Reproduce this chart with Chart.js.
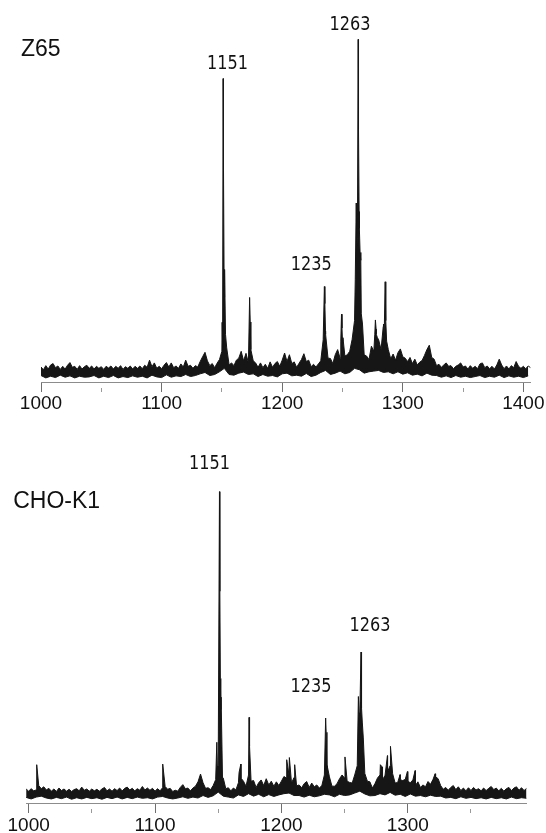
<!DOCTYPE html>
<html>
<head>
<meta charset="utf-8">
<script src="https://cdn.jsdelivr.net/npm/chart.js@4.4.1/dist/chart.umd.min.js"></script>
<style>
  html, body { margin: 0; padding: 0; background: #fff; }
  #wrap { position: relative; width: 546px; height: 833px; overflow: hidden; }
  .panel { position: absolute; left: 0; width: 546px; }
  canvas { display: block; }
</style>
</head>
<body>
<div id="wrap">
  <div class="panel" style="top:0;height:416px"><canvas id="z65" width="546" height="416"></canvas></div>
  <div class="panel" style="top:416px;height:417px"><canvas id="cho" width="546" height="417"></canvas></div>
</div>
<script>
// ---------- Z65 spectrum ----------
// upper edge of the trace, every 2 m/z starting at 1000
const z65Upper = [
  4.4, 3.6, 4.8, 3.8, 5.0, 5.4, 4.2, 4.7, 3.7, 4.6,
  3.8, 4.9, 5.7, 4.3, 4.6, 3.7, 4.8, 3.8, 4.5, 4.9,
  4.0, 4.7, 3.8, 4.6, 4.0, 4.5, 3.7, 4.6, 4.1, 4.7,
  3.8, 4.6, 4.0, 4.8, 3.7, 4.5, 4.0, 4.7, 3.8, 4.6,
  4.0, 4.7, 3.9, 4.9, 4.3, 6.4, 4.5, 5.6, 4.0, 4.6,
  3.9, 4.9, 5.7, 4.4, 5.6, 4.2, 4.7, 4.0, 5.3, 4.4,
  6.4, 4.6, 4.9, 4.0, 4.8, 4.4, 6.0, 7.4, 8.7, 6.2,
  4.8, 5.4, 4.2, 5.5, 6.6, 9.0, 25.0, 10.0, 5.0, 5.6,
  4.8, 6.4, 7.0, 9.0, 6.2, 8.4, 5.6, 9.5, 6.2, 5.6,
  4.3, 5.6, 4.2, 5.2, 4.0, 5.9, 4.3, 5.4, 6.0, 4.6,
  6.4, 8.5, 6.0, 8.0, 5.4, 5.9, 4.3, 5.5, 6.6, 8.3,
  6.0, 6.4, 4.5, 5.2, 4.4, 5.3, 6.2, 12.4, 14.0, 7.0,
  6.9, 5.4, 8.0, 9.5, 7.0, 12.0, 7.6, 8.0, 9.0, 12.5,
  18.0, 40.0, 45.0, 20.0, 8.0, 7.6, 6.6, 10.5, 9.0, 14.0,
  12.4, 9.5, 17.0, 18.0, 9.5, 6.8, 8.2, 6.4, 8.6, 9.7,
  7.4, 7.0, 6.0, 7.2, 5.4, 6.7, 5.0, 5.8, 6.3, 7.8,
  9.5, 10.8, 7.2, 6.7, 4.8, 5.2, 4.3, 5.0, 5.6, 4.6,
  4.8, 3.9, 4.6, 5.0, 5.6, 4.4, 4.7, 3.8, 4.8, 4.0,
  4.6, 3.9, 5.3, 5.6, 4.2, 4.7, 3.9, 4.6, 3.8, 5.0,
  6.7, 5.0, 3.9, 4.7, 3.8, 4.8, 4.2, 6.0, 4.6, 4.0,
  4.6, 3.9, 4.7, 4.2
];
// lower edge of the trace, every 4 m/z starting at 1000
const z65Lower = [
  1.9, 1.2, 1.7, 1.3, 2.0, 1.4, 1.8, 1.2, 1.7, 1.4,
  1.5, 1.9, 1.2, 1.7, 1.3, 1.9, 1.2, 1.6, 1.3, 1.8,
  1.4, 1.7, 1.2, 2.0, 1.5, 1.3, 2.1, 1.4, 1.8, 1.6,
  2.2, 1.6, 1.9, 2.4, 2.8, 1.9, 2.2, 3.0, 4.0, 2.2,
  2.0, 2.6, 2.9, 2.2, 2.4, 1.6, 2.2, 1.7, 1.9, 1.5,
  2.4, 2.6, 1.8, 2.0, 1.7, 2.5, 1.6, 2.0, 2.8, 3.4,
  2.2, 2.6, 3.2, 2.4, 2.8, 4.0, 3.6, 2.6, 3.0, 3.2,
  3.4, 2.8, 3.0, 2.4, 3.0, 2.3, 2.7, 2.0, 2.3, 1.8,
  2.6, 2.0, 1.9, 1.4, 1.8, 1.3, 1.9, 1.4, 1.7, 1.3,
  1.6, 1.9, 1.3, 1.7, 1.4, 2.0, 1.3, 1.8, 1.4, 1.7,
  1.3, 1.8
];
// resolved peaks: [m/z, intensity]
const z65Peaks = [
  [1150.2, 17.5], [1150.6, 10.0], [1151, 89.0], [1151.35, 62.0], [1151.9, 26.0], [1152.5, 33.0], [1153.0, 14.0],
  [1173.0, 24.8], [1173.5, 17.6],
  [1235, 28.0], [1235.4, 23.0], [1235.9, 15.0],
  [1248.6, 12.0], [1249.2, 19.9], [1249.6, 15.8], [1250.4, 13.0],
  [1260.6, 30.0], [1261.4, 52.5], [1261.8, 44.8], [1262.4, 42.0], [1263, 100.5], [1263.3, 74.0],
  [1263.8, 50.0], [1264.6, 38.0], [1265.2, 35.7], [1265.6, 20.0], [1266.6, 17.0],
  [1276.8, 14.0], [1277.3, 18.2], [1277.9, 15.5], [1279.0, 13.0],
  [1283.8, 16.3], [1284.6, 14.0], [1285.4, 29.4], [1285.8, 21.4], [1286.6, 12.0]
];
const z65Labelled = [1151, 1235, 1263];
const z65Ticks = [1000, 1050, 1100, 1150, 1200, 1250, 1300, 1350, 1400];

// ---------- CHO-K1 spectrum ----------
// upper edge of the trace, every 2 m/z starting at 998
const choUpper = [
  4.5, 3.8, 4.6, 3.9, 4.2, 5.6, 4.6, 5.2, 4.2, 4.7,
  3.8, 4.5, 3.7, 4.8, 4.0, 4.5, 3.8, 4.4, 3.7, 4.3,
  4.6, 3.9, 5.1, 4.1, 4.5, 3.8, 4.5, 3.9, 4.4, 3.8,
  4.5, 5.0, 3.9, 4.5, 3.8, 4.6, 4.0, 4.8, 3.9, 4.7,
  5.1, 4.2, 4.7, 3.9, 4.6, 4.1, 5.3, 4.2, 4.8, 4.1,
  4.7, 3.8, 4.6, 3.9, 4.9, 5.3, 4.4, 4.7, 3.7, 4.1,
  3.8, 5.0, 5.9, 4.6, 4.8, 3.9, 4.8, 5.4, 6.8, 9.3,
  6.5, 4.7, 4.9, 4.3, 5.6, 7.5, 12.0, 30.0, 8.0, 4.6,
  4.9, 3.9, 4.8, 4.2, 6.5, 8.0, 7.0, 5.4, 9.0, 7.0,
  7.2, 5.0, 6.5, 7.4, 5.6, 7.8, 5.8, 7.0, 5.4, 6.8,
  5.6, 7.0, 8.5, 8.0, 9.0, 6.4, 8.2, 5.5, 5.8, 4.9,
  6.2, 6.9, 5.0, 6.4, 5.2, 5.8, 4.8, 5.6, 9.0, 11.0,
  8.4, 5.4, 5.4, 6.2, 7.8, 9.0, 8.0, 7.0, 6.6, 6.4,
  9.0, 12.0, 28.0, 26.0, 9.5, 7.0, 6.8, 4.8, 6.2, 8.0,
  9.0, 7.4, 8.9, 10.0, 12.0, 9.4, 6.4, 6.6, 7.5, 7.2,
  7.6, 7.0, 6.5, 7.4, 5.6, 6.8, 5.0, 5.8, 5.2, 6.9,
  6.0, 7.6, 8.4, 7.8, 5.6, 4.4, 5.0, 4.1, 5.0, 5.6,
  4.3, 5.2, 4.0, 4.8, 3.9, 4.9, 4.0, 5.0, 4.2, 4.6,
  3.9, 4.8, 4.0, 4.7, 5.3, 4.3, 4.8, 3.9, 4.7, 3.8,
  4.6, 5.0, 4.0, 4.8, 5.2, 4.1, 4.9, 4.0, 4.7
];
// lower edge of the trace, every 4 m/z starting at 998
const choLower = [
  1.8, 1.3, 1.9, 2.2, 1.6, 1.3, 1.8, 1.4, 1.9, 1.2,
  1.7, 1.3, 1.8, 1.4, 1.7, 1.2, 1.8, 1.4, 1.9, 1.3,
  1.8, 1.4, 1.9, 1.5, 1.7, 1.3, 1.9, 2.1, 1.6, 1.3,
  1.6, 2.0, 1.5, 1.9, 1.6, 2.4, 1.8, 2.3, 3.5, 2.2,
  1.9, 1.6, 2.6, 2.1, 3.0, 2.2, 2.8, 2.0, 2.7, 2.1,
  2.6, 3.0, 3.2, 2.4, 2.4, 1.9, 2.5, 2.0, 2.3, 2.8,
  2.6, 2.0, 2.8, 2.4, 2.6, 3.2, 3.8, 2.9, 2.3, 2.4,
  3.0, 2.6, 3.4, 2.5, 2.8, 2.1, 2.9, 2.2, 2.4, 2.0,
  2.5, 2.1, 2.2, 1.6, 1.8, 1.4, 2.0, 1.5, 1.8, 1.4,
  1.7, 1.3, 1.8, 1.4, 1.7, 1.3, 1.9, 1.4, 1.7, 1.5
];
const choPeaks = [
  [1006.4, 12.3], [1106.1, 12.5],
  [1148.9, 19.5], [1149.3, 12.0], [1151, 100.0], [1151.3, 68.0], [1151.7, 40.0], [1152.3, 34.0], [1153.4, 7.8],
  [1166.5, 9.8], [1167.9, 12.5], [1174.4, 27.5], [1174.8, 18.2],
  [1204.2, 13.9], [1206.3, 14.6], [1210.5, 12.3],
  [1235, 27.3], [1235.4, 22.7], [1236.2, 12.0],
  [1250.3, 14.8],
  [1260.9, 34.2], [1261.4, 29.0], [1263, 48.5], [1263.4, 30.5], [1264.8, 20.9],
  [1278.3, 12.3], [1279.6, 11.6], [1283.9, 15.2], [1286.3, 18.2],
  [1293.9, 9.1], [1299.7, 10.1], [1305.8, 10.4], [1321.6, 9.4]
];
const choLabelled = [1151, 1235, 1263];
const choTicks = [1000, 1050, 1100, 1150, 1200, 1250, 1300, 1350];

// ---------- drawing ----------
const INK = '#161616';
const AXIS = '#8c8c8c';

function sampled(start, step, values) {
  return values.map((v, i) => ({ x: start + i * step, y: v }));
}
function withPeaks(points, peaks) {
  return points.concat(peaks.map(([x, y]) => ({ x, y }))).sort((a, b) => a.x - b.x);
}
function isMajor(ctx) {
  return ctx.tick && ctx.tick.value % 100 === 0;
}

// sample name and m/z annotations above the labelled peaks
function labelPlugin(cfg) {
  return {
    id: 'spectrumLabels',
    afterDatasetsDraw(chart) {
      const ctx = chart.ctx;
      const xs = chart.scales.x, ys = chart.scales.y;
      ctx.save();
      ctx.fillStyle = '#111';
      ctx.font = '23px "Liberation Sans", Arial, sans-serif';
      ctx.textAlign = 'left';
      ctx.textBaseline = 'alphabetic';
      ctx.fillText(cfg.name, cfg.nameAt[0], cfg.nameAt[1]);

      ctx.font = '20px "DejaVu Sans Condensed", "DejaVu Sans", sans-serif';
      ctx.textAlign = 'center';
      ctx.textBaseline = 'middle';
      cfg.labelled.forEach((mz, i) => {
        const peak = cfg.peaks.find(p => p[0] === mz);
        const [dx, dy] = cfg.labelOffsets[i];
        const x = xs.getPixelForValue(mz) + dx;
        const y = ys.getPixelForValue(peak[1]) + dy;
        const text = String(mz);
        const w = ctx.measureText(text).width;
        const sx = Math.min(1, 41 / w);
        ctx.save();
        ctx.translate(x, y);
        ctx.scale(sx, 1);
        ctx.fillText(text, 0, 0);
        ctx.restore();
      });
      ctx.restore();
    }
  };
}

function makePanel(id, cfg) {
  const upper = withPeaks(sampled(cfg.start, 2, cfg.upper), cfg.peaks);
  const lower = sampled(cfg.start, 4, cfg.lower);
  return new Chart(document.getElementById(id), {
    type: 'line',
    data: {
      datasets: [
        { data: upper, borderColor: INK, backgroundColor: INK, borderWidth: 1,
          pointRadius: 0, tension: 0, fill: '+1' },
        { data: lower, borderColor: INK, backgroundColor: INK, borderWidth: 1,
          pointRadius: 0, tension: 0, fill: false }
      ]
    },
    options: {
      responsive: false,
      animation: false,
      events: [],
      layout: { padding: cfg.padding },
      plugins: { legend: { display: false }, tooltip: { enabled: false } },
      scales: {
        x: {
          type: 'linear',
          min: cfg.min,
          max: cfg.max,
          afterBuildTicks: s => { s.ticks = cfg.ticks.map(v => ({ value: v })); },
          afterFit: s => { s.height = cfg.axisHeight; s.paddingLeft = 0; s.paddingRight = 0; },
          border: { display: true, color: AXIS, width: 1 },
          grid: {
            display: true,
            drawOnChartArea: false,
            drawTicks: true,
            tickLength: 10,
            tickWidth: 1,
            tickColor: c => isMajor(c) ? '#6f6f6f' : '#9a9a9a',
            tickBorderDash: c => isMajor(c) ? [] : [0, 5, 10]
          },
          ticks: {
            autoSkip: false,
            maxRotation: 0,
            padding: cfg.tickPad,
            color: '#111',
            font: { family: '"Liberation Sans", Arial, sans-serif', size: 19 },
            callback: v => (v % 100 === 0 ? String(v) : '')
          }
        },
        y: { display: false, min: 0, max: cfg.yMax }
      }
    },
    plugins: [labelPlugin(cfg)]
  });
}

makePanel('z65', {
  name: 'Z65', nameAt: [21, 55.5],
  start: 1000, upper: z65Upper, lower: z65Lower, peaks: z65Peaks,
  labelled: z65Labelled, labelOffsets: [[4.4, -14.9], [-13.1, -21.6], [-8.2, -15]],
  ticks: z65Ticks, min: 1000, max: 1406, yMax: 110,
  padding: { left: 41, right: 15.4, top: 7, bottom: 0 },
  axisHeight: 34, tickPad: 0
});

makePanel('cho', {
  name: 'CHO-K1', nameAt: [13.2, 92],
  start: 998, upper: choUpper, lower: choLower, peaks: choPeaks,
  labelled: choLabelled, labelOffsets: [[-10.1, -27.7], [-14.6, -31.2], [9, -26.2]],
  ticks: choTicks, min: 998, max: 1394, yMax: 120,
  padding: { left: 26.1, right: 19.4, top: 13.4, bottom: 0 },
  axisHeight: 30, tickPad: 1
});
</script>
</body>
</html>
